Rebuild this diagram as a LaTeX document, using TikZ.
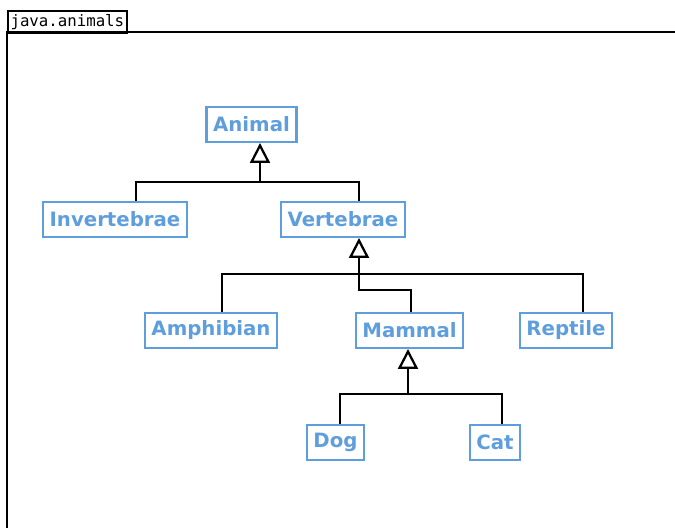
\documentclass[tikz,border=0pt]{standalone}
\usepackage{fontspec}
\newfontfamily\classfont{DejaVu Sans}
\newfontfamily\pkgfont{DejaVu Sans Mono}
\usepackage{xcolor}
\usetikzlibrary{arrows.meta}
\definecolor{classblue}{RGB}{95,158,220}

\begin{document}
\begin{tikzpicture}[x=0.75pt,y=-0.75pt,
  class/.style={draw=classblue, line width=1.7pt, text=classblue, font=\classfont\bfseries\fontsize{14.8}{17}\selectfont, minimum height=26pt, inner xsep=5pt},
  link/.style={line width=1.7pt},
  inherit/.style={link, -{Triangle[open,length=15pt,width=15pt]}},
  pkg/.style={draw, line width=1.3pt, font=\pkgfont\fontsize{11.8}{13}\selectfont, minimum height=16.5pt, inner xsep=2pt, inner ysep=0pt},
  frame/.style={line width=2pt}]
       \useasboundingbox (0,0) rectangle (675,528);

       \node[pkg, anchor=north west] (pkgtab) at (7,10) {java.animals};
       \coordinate (frameBL) at (7,530);
       \coordinate (frameTR) at (676,32);
       \draw[frame] (frameBL) |- (frameTR);

       \node[class] (Animal) at (251.5,124.5) {Animal};
       \node[class] (Invertebrae) at (115,219.5) {Invertebrae};
       \node[class] (Vertebrae) at (343,219.5) {Vertebrae};
       \node[class] (Amphibian) at (211,330.5) {Amphibian};
       \node[class] (Mammal) at (409.5,330.5) {Mammal};
       \node[class] (Reptile) at (566,330.5) {Reptile};
       \node[class] (Dog) at (335.5,442.5) {Dog};
       \node[class] (Cat) at (495,442.5) {Cat};

       \coordinate (jAnimal) at (260,182);
       \coordinate (dInv) at (136,182);
       \coordinate (dVer) at (359,182);
       \coordinate (jVertebrae) at (359,274);
       \coordinate (dAmp) at (222,274);
       \coordinate (dRep) at (583,274);
       \coordinate (dMam) at (411,290);
       \coordinate (jMammal) at (408,394);
       \coordinate (dDog) at (340,394);
       \coordinate (dCat) at (502,394);

       \draw[inherit] (jAnimal) -- (Animal.south -| jAnimal);
       \draw[link] (Invertebrae.north -| dInv) -- (dInv) -- (dVer) -- (Vertebrae.north -| dVer);

       \draw[inherit] (jVertebrae) -- (Vertebrae.south -| jVertebrae);
       \draw[link] (Amphibian.north -| dAmp) -- (dAmp) -- (dRep) -- (Reptile.north -| dRep);
       \draw[link] (jVertebrae) |- (dMam) -- (Mammal.north -| dMam);

       \draw[inherit] (jMammal) -- (Mammal.south -| jMammal);
       \draw[link] (Dog.north -| dDog) -- (dDog) -- (dCat) -- (Cat.north -| dCat);
\end{tikzpicture}
\end{document}
